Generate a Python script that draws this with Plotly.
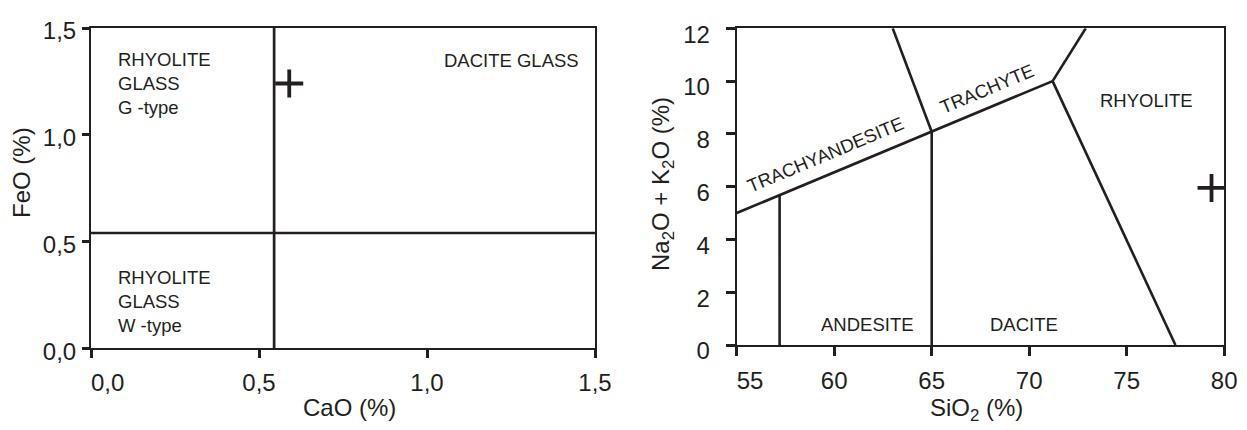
import plotly.graph_objects as go

FONT = "Arial, 'Liberation Sans', Helvetica, sans-serif"
INK = "#231f20"
NB = "\u00a0"

# ---------------- Left diagram: CaO vs FeO ----------------
cao_tickvals = [0.0, 0.5, 1.0, 1.5]
cao_ticktext = ["0,0", "0,5", "1,0", "1,5"]
feo_tickvals = [0.0, 0.5, 1.0, 1.5]
feo_ticktext = ["0,0", "0,5", "1,0", "1,5"]
cao_range = [0, 1.5]
feo_range = [0, 1.5]

cao_split = 0.545          # vertical boundary (CaO %)
feo_split = 0.54           # horizontal boundary (FeO %)

sample_cao = [0.59]
sample_feo = [1.24]

left_label_text = ["RHYOLITE<br>GLASS<br>G -type", "DACITE GLASS", "RHYOLITE<br>GLASS<br>W -type"]
left_label_x = [0.074, 1.458, 0.074]
left_label_y = [1.240, 1.347, 0.218]
left_label_anchor = ["left", "right", "left"]

# ---------------- Right diagram: TAS ----------------
sio2_tickvals = [55, 60, 65, 70, 75, 80]
sio2_ticktext = ["55", "60", "65", "70", "75", "80"]
alk_tickvals = [0, 2, 4, 6, 8, 10, 12]
alk_ticktext = ["0", "2", "4", "6", "8", "10", "12"]
sio2_range = [55, 80]
alk_range = [0, 12]

# boundary segments (SiO2, Na2O+K2O)
trachy_base_x = [55, 71.2]
trachy_base_y = [5.0, 10.0]
trachyte_left_x = [63.0, 65.0]
trachyte_left_y = [12.0, 8.08]
dacite_left_x = [65.0, 65.0]
dacite_left_y = [8.08, 0.0]
andesite_left_x = [57.2, 57.2]
andesite_left_y = [0.0, 5.68]
rhyolite_top_x = [71.2, 72.9]
rhyolite_top_y = [10.0, 12.0]
rhyolite_low_x = [71.2, 77.5]
rhyolite_low_y = [10.0, 0.0]

sample_sio2 = [79.35]
sample_alk = [5.95]

tas_label_text = ["TRACHYANDESITE", "TRACHYTE", "RHYOLITE", "ANDESITE", "DACITE"]
tas_label_x = [59.55, 67.86, 75.99, 61.71, 69.73]
tas_label_y = [7.20, 9.73, 9.28, 0.76, 0.76]
tas_label_angle = [-22.7, -22.7, 0, 0, 0]

fig = go.Figure()

# left boundaries
fig.add_trace(go.Scatter(x=[cao_range[0], cao_range[1]], y=[feo_split, feo_split], mode="lines",
                         line=dict(color=INK, width=2.7), xaxis="x", yaxis="y", hoverinfo="skip"))
fig.add_trace(go.Scatter(x=[cao_split, cao_split], y=[feo_range[0], feo_range[1]], mode="lines",
                         line=dict(color=INK, width=2.7), xaxis="x", yaxis="y", hoverinfo="skip"))
fig.add_trace(go.Scatter(x=sample_cao, y=sample_feo, mode="markers",
                         marker=dict(symbol="cross-thin", size=20, line=dict(color=INK, width=3.8)),
                         xaxis="x", yaxis="y"))

# right boundaries
for xs, ys in [(trachy_base_x, trachy_base_y), (trachyte_left_x, trachyte_left_y),
               (dacite_left_x, dacite_left_y), (andesite_left_x, andesite_left_y),
               (rhyolite_top_x, rhyolite_top_y), (rhyolite_low_x, rhyolite_low_y)]:
    fig.add_trace(go.Scatter(x=xs, y=ys, mode="lines", line=dict(color=INK, width=2.6),
                             xaxis="x2", yaxis="y2", hoverinfo="skip"))
fig.add_trace(go.Scatter(x=sample_sio2, y=sample_alk, mode="markers",
                         marker=dict(symbol="cross-thin", size=20, line=dict(color=INK, width=3.8)),
                         xaxis="x2", yaxis="y2"))

axis_common = dict(showline=True, mirror=True, linecolor=INK, linewidth=2, showgrid=False,
                   zeroline=False, ticks="outside", tickwidth=3, tickcolor=INK, automargin=False,
                   tickfont=dict(family=FONT, size=24, color=INK), fixedrange=True)

first_cao = [NB * 5 + cao_ticktext[0]] + cao_ticktext[1:]
first_sio2 = [NB * 4 + sio2_ticktext[0]] + sio2_ticktext[1:]

fig.update_layout(
    template="none",
    width=1247, height=430, autosize=False,
    margin=dict(l=0, r=0, t=0, b=0, pad=0, autoexpand=False),
    paper_bgcolor="white", plot_bgcolor="white",
    showlegend=False,
    font=dict(family=FONT, color=INK),
    xaxis=dict(domain=[91 / 1247, 595 / 1247], range=cao_range, tickvals=cao_tickvals,
               ticktext=first_cao, ticklen=8, anchor="y", ticklabelstandoff=4, **axis_common),
    yaxis=dict(domain=[1 - 348.3 / 430, 1 - 28 / 430], range=feo_range, tickvals=feo_tickvals,
               ticktext=feo_ticktext, ticklen=7, anchor="x", ticklabelstandoff=1,
               ticklabelshift=3, **axis_common),
    xaxis2=dict(domain=[736.7 / 1247, 1224.2 / 1247], range=sio2_range, tickvals=sio2_tickvals,
                ticktext=first_sio2, ticklen=9, anchor="y2", ticklabelstandoff=4, **axis_common),
    yaxis2=dict(domain=[1 - 345 / 430, 1 - 28.3 / 430], range=alk_range, tickvals=alk_tickvals,
                ticktext=alk_ticktext, ticklen=9, anchor="x2", ticklabelstandoff=11,
                ticklabelshift=6, **axis_common),
)

annotations = []
for t, x, y, a in zip(left_label_text, left_label_x, left_label_y, left_label_anchor):
    annotations.append(dict(text=t, x=x, y=y, xref="x", yref="y", xanchor=a, yanchor="middle",
                            showarrow=False, align="left", font=dict(family=FONT, size=18.5, color=INK)))
for t, x, y, ang in zip(tas_label_text, tas_label_x, tas_label_y, tas_label_angle):
    annotations.append(dict(text=t, x=x, y=y, xref="x2", yref="y2", xanchor="center", yanchor="middle",
                            textangle=ang, showarrow=False, font=dict(family=FONT, size=18.5, color=INK)))

# axis titles
title_font = dict(family=FONT, size=24, color=INK)
annotations += [
    dict(text="FeO (%)", x=22 / 1247, y=1 - 173 / 430, xref="paper", yref="paper", textangle=-90,
         showarrow=False, xanchor="center", yanchor="middle", font=title_font),
    dict(text="CaO (%)", x=349.5 / 1247, y=1 - 407 / 430, xref="paper", yref="paper",
         showarrow=False, xanchor="center", yanchor="middle", font=title_font),
    dict(text="Na<sub>2</sub>O + K<sub>2</sub>O (%)", x=662 / 1247, y=1 - 184 / 430, xref="paper",
         yref="paper", textangle=-90, showarrow=False, xanchor="center", yanchor="middle", font=title_font),
    dict(text="SiO<sub>2</sub> (%)", x=976 / 1247, y=1 - 409 / 430, xref="paper", yref="paper",
         showarrow=False, xanchor="center", yanchor="middle", font=title_font),
]
fig.update_layout(annotations=annotations)

fig.write_html("out.html", config={"displayModeBar": False, "staticPlot": True},
               post_script="document.body.style.margin='0px';document.body.style.overflow='hidden';")
